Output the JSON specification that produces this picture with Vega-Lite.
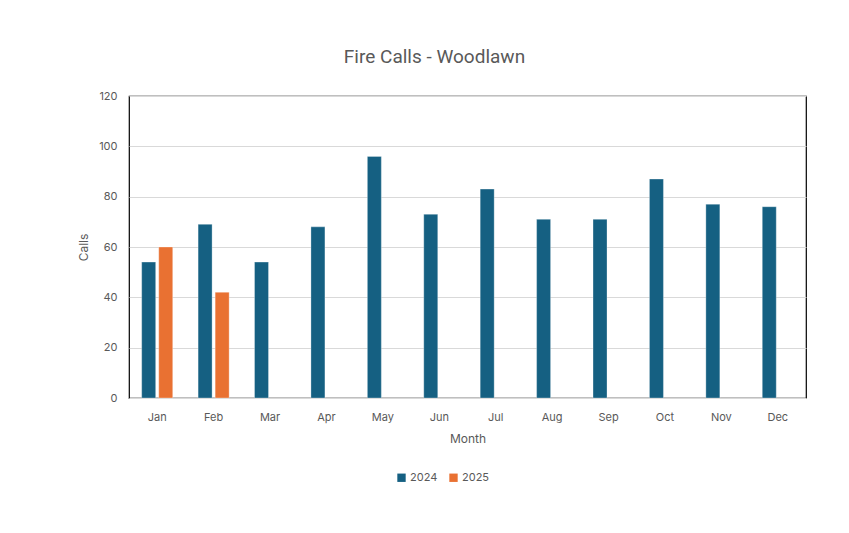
{
  "$schema": "https://vega.github.io/schema/vega-lite/v6.json",
  "autosize": "none",
  "width": 677,
  "height": 302,
  "padding": {"left": 129, "top": 96, "right": 43, "bottom": 135},
  "background": "white",
  "title": {
    "text": "Fire Calls - Woodlawn",
    "anchor": "middle",
    "dx": -33,
    "offset": 23,
    "font": "Liberation Sans Narrow, Roboto, sans-serif",
    "fontSize": 19,
    "fontWeight": "normal",
    "color": "#595959"
  },
  "data": {
    "values": [
      {"Month": "Jan", "Year": "2024", "Calls": 54},
      {"Month": "Jan", "Year": "2025", "Calls": 60},
      {"Month": "Feb", "Year": "2024", "Calls": 69},
      {"Month": "Feb", "Year": "2025", "Calls": 42},
      {"Month": "Mar", "Year": "2024", "Calls": 54},
      {"Month": "Apr", "Year": "2024", "Calls": 68},
      {"Month": "May", "Year": "2024", "Calls": 96},
      {"Month": "Jun", "Year": "2024", "Calls": 73},
      {"Month": "Jul", "Year": "2024", "Calls": 83},
      {"Month": "Aug", "Year": "2024", "Calls": 71},
      {"Month": "Sep", "Year": "2024", "Calls": 71},
      {"Month": "Oct", "Year": "2024", "Calls": 87},
      {"Month": "Nov", "Year": "2024", "Calls": 77},
      {"Month": "Dec", "Year": "2024", "Calls": 76}
    ]
  },
  "mark": {"type": "bar", "stroke": "white", "strokeWidth": 0.5, "strokeOpacity": 0.6},
  "encoding": {
    "x": {
      "field": "Month",
      "type": "nominal",
      "sort": ["Jan","Feb","Mar","Apr","May","Jun","Jul","Aug","Sep","Oct","Nov","Dec"],
      "scale": {"paddingInner": 0.45, "paddingOuter": 0.225},
      "axis": {
        "title": "Month",
        "labelAngle": 0,
        "ticks": false,
        "labelPadding": 13,
        "titlePadding": 11,
        "domainColor": "#d9d9d9",
        "labelColor": "#595959",
        "titleColor": "#595959",
        "labelFont": "Inter",
        "titleFont": "Inter",
        "labelFontSize": 11,
        "titleFontSize": 12,
        "titleFontWeight": "normal"
      }
    },
    "xOffset": {
      "field": "Year",
      "type": "nominal",
      "scale": {"paddingInner": 0.18}
    },
    "y": {
      "field": "Calls",
      "type": "quantitative",
      "scale": {"domain": [0, 120], "nice": false},
      "axis": {
        "title": "Calls",
        "values": [0, 20, 40, 60, 80, 100, 120],
        "ticks": false,
        "domain": false,
        "labelPadding": 12,
        "titlePadding": 8,
        "gridColor": "#d9d9d9",
        "labelColor": "#595959",
        "titleColor": "#595959",
        "labelFont": "Inter",
        "titleFont": "Inter",
        "labelFontSize": 11,
        "titleFontSize": 12,
        "titleFontWeight": "normal"
      }
    },
    "color": {
      "field": "Year",
      "type": "nominal",
      "scale": {"domain": ["2024", "2025"], "range": ["#156082", "#E97132"]},
      "legend": {
        "title": null,
        "orient": "none",
        "direction": "horizontal",
        "legendX": 267,
        "legendY": 376,
        "symbolType": "square",
        "symbolSize": 70,
        "symbolStrokeWidth": 0,
        "labelFont": "Inter",
        "labelFontSize": 11,
        "labelColor": "#595959",
        "columnPadding": 10,
        "labelOffset": 3
      }
    }
  },
  "config": {
    "view": {"stroke": "#000000", "strokeWidth": 1.2}
  }
}
